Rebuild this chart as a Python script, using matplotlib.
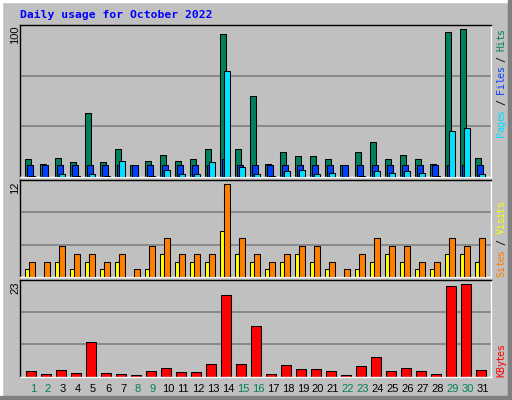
import matplotlib
matplotlib.use("Agg")
from matplotlib import pyplot as plt
from matplotlib.patches import Rectangle
import numpy as np

# daily values
days = list(range(1, 32))
weekend_days = [1, 2, 8, 9, 15, 16, 22, 23, 29, 30]
hits = [12, 9, 13, 10, 43, 10, 19, 8, 11, 15, 11, 12, 19, 97, 19, 55,
        9, 17, 14, 14, 12, 8, 17, 24, 12, 15, 12, 9, 98, 100, 13]
files = [8, 8, 8, 8, 8, 8, 8, 8, 8, 8, 8, 8, 8, 12, 8, 8,
         8, 8, 8, 8, 8, 8, 8, 8, 8, 8, 8, 8, 8, 8, 8]
pages = [1, 0, 2, 1, 2, 1, 11, 0, 1, 5, 2, 2, 10, 72, 7, 2,
         1, 4, 5, 2, 3, 0, 1, 4, 3, 4, 3, 1, 31, 33, 2]
visits = [1, 0, 2, 1, 2, 1, 2, 0, 1, 3, 2, 2, 2, 6, 3, 2,
          1, 2, 3, 2, 1, 0, 1, 2, 3, 2, 1, 1, 3, 3, 2]
sites = [2, 2, 4, 3, 3, 2, 3, 1, 4, 5, 3, 3, 3, 12, 5, 3,
         2, 3, 4, 4, 2, 1, 3, 5, 4, 4, 2, 2, 5, 4, 5]
kbytes = [1.35, 0.6, 1.6, 0.85, 8.7, 0.85, 0.6, 0.35, 1.35, 2.1, 1.1, 1.1, 3.1, 20.4, 3.1, 12.5,
          0.6, 2.9, 1.85, 1.85, 1.35, 0.35, 2.6, 4.9, 1.35, 2.1, 1.35, 0.6, 22.5, 23.0, 1.6]

BG = "#C0C0C0"
W, H = 512, 400
PX = 1 / 15.0  # one pixel in day units
LW = 0.75

fig = plt.figure(figsize=(W / 100, H / 100), dpi=100, facecolor=BG)


def make_axes(top, bottom, ymax):
    ax = fig.add_axes([20 / W, 1 - bottom / H, 471 / W, (bottom - top) / H])
    ax.set_facecolor(BG)
    ax.set_xlim(0, 471 / 15)
    ax.set_ylim(0, ymax)
    ax.set_xticks([])
    ax.set_yticks([])
    for side in ["top", "left"]:
        ax.spines[side].set_color("black")
        ax.spines[side].set_linewidth(1.0)
    for side in ["bottom", "right"]:
        ax.spines[side].set_color("white")
        ax.spines[side].set_linewidth(1.0)
    for f in (1 / 3, 2 / 3):
        ax.plot([0, 1], [f, f], transform=ax.transAxes, color="#808080", lw=1.2, zorder=1)
    return ax


x0 = np.array(days) - 1 + 5 * PX
bw = 6.3 * PX

ax1 = make_axes(25, 177, 100 * 152 / 147.7)
ax1.bar(x0, hits, width=bw, align="edge", color="#00805C", edgecolor="black", lw=LW, zorder=2)
ax1.bar(x0 + 2 * PX, files, width=bw, align="edge", color="#0040FF", edgecolor="black", lw=LW, zorder=3)
ax1.bar(x0 + 4 * PX, pages, width=bw, align="edge", color="#00E0FF", edgecolor="black", lw=LW, zorder=4)

ax2 = make_axes(180, 277, 12 * 97 / 92.7)
ax2.bar(x0, visits, width=bw, align="edge", color="#FFFF00", edgecolor="black", lw=LW, zorder=2)
ax2.bar(x0 + 4 * PX, sites, width=bw, align="edge", color="#FF8000", edgecolor="black", lw=LW, zorder=3)

ax3 = make_axes(280, 376.5, 23 * 96.5 / 92.2)
ax3.bar(x0 + 1.3 * PX, kbytes, width=9.6 * PX, align="edge", color="#FF0000", edgecolor="black", lw=LW, zorder=2)


def fx(px):
    return px / W


def fy(py):
    return 1 - py / H


# title
fig.text(fx(20), fy(15), "Daily usage for October 2022", family="DejaVu Sans Mono",
         weight="bold", size=8.2, color="#0000FF", va="center", ha="left")

# max value labels
for label, top in [("100", 25), ("12", 180), ("23", 280)]:
    fig.text(fx(15), fy(top + 1), label, family="Liberation Sans", size=8,
             rotation=90, ha="center", va="top", color="black")

# day labels
for d in days:
    col = "#00805C" if d in weekend_days else "black"
    fig.text(fx(20 + (d - 1) * 15 + 13), fy(389), str(d), family="Liberation Sans",
             size=8, ha="center", va="center", color=col)

# right-hand legends, one character at a time with a fixed pitch
CW = 5.4


def side_label(parts, y_bottom):
    k = 0
    for txt, col in parts:
        for ch in txt:
            if ch != " ":
                fig.text(fx(501), fy(y_bottom - (k + 0.5) * CW), ch, family="DejaVu Sans Mono",
                         size=7.2, rotation=90, ha="center", va="center", color=col)
            k += 1


side_label([("Pages", "#00E0FF"), (" / ", "black"), ("Files", "#0040FF"),
            (" / ", "black"), ("Hits", "#00805C")], 137)
side_label([("Sites", "#FF8000"), (" / ", "black"), ("Visits", "#FFFF00")], 277)
side_label([("KBytes", "#FF0000")], 377)

# outer bevel
fig.patches.append(Rectangle((0, 0), fx(2), 1, transform=fig.transFigure, color="white", zorder=0))
fig.patches.append(Rectangle((0, fy(2)), 1, 2 / H, transform=fig.transFigure, color="white", zorder=0))
fig.patches.append(Rectangle((fx(508), 0), 4 / W, 1, transform=fig.transFigure, color="#808080", zorder=0))
fig.patches.append(Rectangle((0, 0), 1, 4 / H, transform=fig.transFigure, color="#808080", zorder=0))

fig.savefig("out.png", dpi=100, facecolor=BG)
